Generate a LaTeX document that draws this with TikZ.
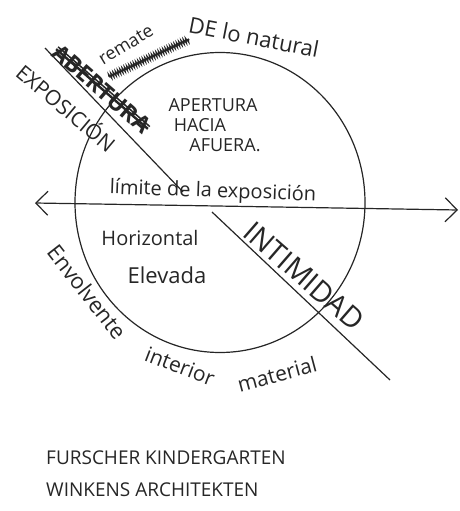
\documentclass[tikz,border=0pt]{standalone}
\usepackage{fontspec}
\setmainfont{Open Sans}
\usetikzlibrary{arrows.meta,decorations.pathmorphing,calc}
\begin{document}
\begin{tikzpicture}[x=1pt,y=-1pt,
  pen/.style={line width=1.2pt, draw=black!85},
  hand/.style={text=black!85, inner sep=0pt},
  fs/.style={font=\fontsize{#1}{#1}\selectfont},
  barb/.style={-{Straight Barb[length=12pt,width=24pt,line width=1.2pt]}}
]
\useasboundingbox (0,0) rectangle (460,511);
% circle
\draw[pen] (220,202.5) ellipse [x radius=145, y radius=150];
% horizontal arrow
\coordinate (hl) at (35,203);
\coordinate (hr) at (458,210);
\draw[pen,barb] (247,206.5) -- (hl);
\draw[pen,barb] (247,206.5) -- (hr);
% diagonal line
\coordinate (d1) at (45,48);
\coordinate (d2) at (183,192);
\coordinate (d3) at (212,212);
\coordinate (d4) at (390,380);
\draw[pen] (d1) -- (d2);
\draw[pen] (d3) -- (d4);
% texts along diagonal
\node[hand,fs=21,rotate=-40] (expo) at (67,107) {EXPOSICIÓN};
\node[hand,rotate=-41,font=\bfseries\fontsize{23}{23}\selectfont] (aber) at (102,89) {ABERTURA};
\draw[line width=2.4pt,black!85] (aber.west) -- (aber.east);
\draw[line width=1.5pt,black!85] ($(aber.west)!0.35!(aber.north west)$) -- ($(aber.east)!0.35!(aber.north east)$);
\node[hand,fs=29,rotate=-41] (inti) at (304,276) {INTIMIDAD};
% top texts
\node[hand,fs=18,rotate=31] (rem) at (126,45) {remate};
\node[inner sep=0pt,minimum width=88,minimum height=7,rotate=25] (scr) at (149,58) {};
\draw[line width=1pt,black!85,decorate,decoration={zigzag,segment length=2.5pt,amplitude=3pt}] (scr.west) -- (scr.east);
\draw[line width=2pt,black!85] (scr.west) -- (scr.east);
\node[hand,fs=22,rotate=-11] (nat) at (254,37) {DE lo natural};
% inside circle
\node[hand,fs=18] (ap) at (213,105) {APERTURA};
\node[hand,fs=18] (ha) at (200,125) {HACIA};
\node[hand,fs=18] (af) at (225,145) {AFUERA.};
\node[hand,fs=20,rotate=-2] (lim) at (213,192) {límite de la exposición};
\node[hand,fs=20] (hor) at (150,238) {Horizontal};
\node[hand,fs=22] (ele) at (167,275) {Elevada};
% outside bottom
\node[hand,fs=22,rotate=-52] (env) at (87,292) {Envolvente};
\node[hand,fs=21,rotate=-21] (int) at (180,366) {interior};
\node[hand,fs=21,rotate=15] (mat) at (277,374) {material};
% caption
\node[hand,fs=19,anchor=west] (c1) at (46,458) {FURSCHER KINDERGARTEN};
\node[hand,fs=19,anchor=west] (c2) at (46,490) {WINKENS ARCHITEKTEN};
\end{tikzpicture}
\end{document}
